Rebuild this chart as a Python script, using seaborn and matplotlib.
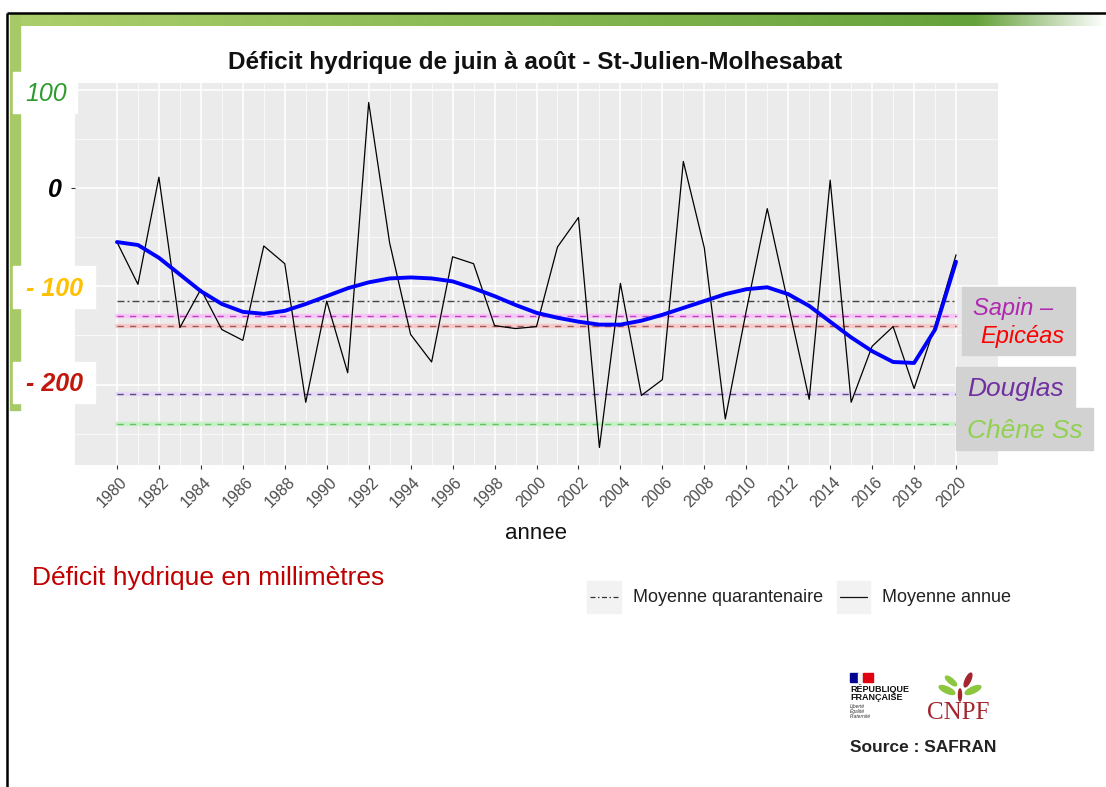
import numpy as np
import pandas as pd
import matplotlib
matplotlib.use("Agg")
import matplotlib.pyplot as plt
import matplotlib.transforms as mtransforms
from matplotlib.patches import Rectangle, Ellipse
import seaborn as sns

# ---------------- data ----------------
years = list(range(1980, 2021))
deficit = [-55, -98, 11, -142, -103, -144, -155, -59, -77, -218,
           -115, -188, 87, -56, -149, -177, -70, -77, -140, -143,
           -141, -60, -30, -264, -97, -211, -195, 27, -61, -235,
           -125, -21, -118, -215, 8, -218, -161, -141, -204, -140,
           -68]
smooth = [-55, -58, -71, -88, -105, -118, -126, -128, -125, -118,
          -110, -102, -96, -92, -91, -92, -95, -102, -110, -119,
          -127, -132, -136, -139, -139, -135, -129, -122, -115, -108,
          -103, -101, -108, -120, -136, -152, -166, -177, -178, -144,
          -75]
ref_names = ["Moyenne quarantenaire", "Sapin", "Epicéas", "Douglas", "Chêne Ss"]
ref_values = [-115, -130, -140, -210, -240]
xtick_years = list(range(1980, 2021, 2))
title = "Déficit hydrique de juin à août - St-Julien-Molhesabat"
left_labels = ["100", "0", "- 100", "- 200"]
legend_labels = ["Moyenne quarantenaire", "Moyenne annuelle"]

# ---------------- styles ----------------
ref_styles = {
    "Moyenne quarantenaire": dict(color="#444444", band=None, dashes=(5, 2.2, 1.4, 2.2)),
    "Sapin": dict(color="#C040C0", band="#F6C6F6", dashes=(4.5, 4.5)),
    "Epicéas": dict(color="#A05858", band="#F6CACA", dashes=(4.5, 4.5)),
    "Douglas": dict(color="#5E4A7E", band="#E6DAF8", dashes=(4.5, 4.5)),
    "Chêne Ss": dict(color="#66C066", band="#C6F0C6", dashes=(4.5, 4.5)),
}

sns.set_theme(style="darkgrid")
plt.rcParams["font.family"] = ["Liberation Sans", "DejaVu Sans"]

W, H = 1106, 787
fig = plt.figure(figsize=(W / 100, H / 100), dpi=100)
fig.patch.set_facecolor("white")

# ---------------- slide decoration (background) ----------------
deco = fig.add_axes([0, 0, 1, 1], zorder=-5)
deco.set_xlim(0, W)
deco.set_ylim(H, 0)
deco.axis("off")
xs = np.linspace(0, 1, 600)
c0 = np.array([0.67, 0.81, 0.42])
c1 = np.array([0.36, 0.61, 0.20])
grad = c0[None, :] * (1 - xs[:, None]) + c1[None, :] * xs[:, None]
fade = np.clip((xs - 0.88) / 0.12, 0, 1)[:, None]
grad = grad * (1 - fade) + fade * 1.0
deco.imshow(grad[None, :, :], extent=(20, W, 26, 14), aspect="auto", zorder=1)
deco.add_patch(Rectangle((10, 14), 10, 396, color="#A8CA66", zorder=1))
deco.plot([7, W], [13, 13], color="black", lw=1.8, zorder=2, solid_capstyle="butt")
deco.plot([7, 7], [13, H], color="black", lw=1.8, zorder=2, solid_capstyle="butt")

# ---------------- main chart ----------------
ax = fig.add_axes([75 / W, 1 - 465 / H, 923 / W, 382 / H])
ax.set_facecolor("#EBEBEB")
for s in ax.spines.values():
    s.set_visible(False)

for name, val in zip(ref_names, ref_values):
    st = ref_styles[name]
    if st["band"] is not None:
        ax.axhline(val, color=st["band"], lw=3.2, zorder=1.4, xmin=0.045, xmax=0.955)
    ax.axhline(val, color=st["color"], lw=1.0, dashes=st["dashes"], zorder=1.5,
               xmin=0.045, xmax=0.955)

df = pd.DataFrame({"annee": years, "deficit": deficit, "lisse": smooth})
sns.lineplot(data=df, x="annee", y="deficit", ax=ax, color="black", lw=0.9,
             legend=False, zorder=2)
sns.lineplot(data=df, x="annee", y="lisse", ax=ax, color="#0000FF", lw=2.8,
             legend=False, zorder=3)

ax.set_xlim(1978, 2022)
ax.set_ylim(-281.8, 106.8)
ax.set_xticks(xtick_years)
ax.set_xticks(list(range(1981, 2020, 2)), minor=True)
ax.set_yticks([-200, -100, 0, 100])
ax.set_yticks([-250, -150, -50, 50], minor=True)
ax.grid(which="major", color="white", lw=1.1)
ax.grid(which="minor", color="white", lw=0.5)
ax.tick_params(which="minor", length=0)
ax.tick_params(axis="both", which="major", length=3, width=0.8, color="#333333",
               bottom=True, left=True, pad=4)
ax.set_yticklabels([])
ax.set_xticklabels([str(y) for y in xtick_years], rotation=45, ha="center",
                   va="top", color="#4D4D4D", fontsize=11.5)
offset = mtransforms.ScaledTranslation(-5 / 100, 0, fig.dpi_scale_trans)
for lab in ax.get_xticklabels():
    lab.set_transform(lab.get_transform() + offset)
ax.set_xlabel("annee", fontsize=16, color="#111111", labelpad=9)
ax.set_ylabel("")

fig.text(535.5 / W, 1 - 62 / H, title, ha="center", va="center",
         fontsize=17.5, fontweight="bold", color="#111111")

# ---------------- overlays ----------------
ov = fig.add_axes([0, 0, 1, 1], zorder=5)
ov.set_xlim(0, W)
ov.set_ylim(H, 0)
ov.axis("off")

# left value labels
ov.add_patch(Rectangle((13, 72), 64, 41, color="white"))
ov.text(46, 94, left_labels[0], color="#2E9B2E", fontsize=18, style="italic",
        ha="center", va="center")
ov.text(55, 190, left_labels[1], color="black", fontsize=18, style="italic",
        fontweight="bold", ha="center", va="center")
ov.add_patch(Rectangle((13, 266), 82, 42, color="white"))
ov.text(54, 289, left_labels[2], color="#FFC000", fontsize=18, style="italic",
        fontweight="bold", ha="center", va="center")
ov.add_patch(Rectangle((13, 362), 82, 41, color="white"))
ov.text(54, 384, left_labels[3], color="#C0180C", fontsize=18, style="italic",
        fontweight="bold", ha="center", va="center")

# right species labels
ov.add_patch(Rectangle((962, 287), 113, 68, color="#D2D2D2"))
ov.text(1013, 308, "Sapin –", color="#B027B0", fontsize=17, style="italic",
        ha="center", va="center")
ov.text(1022, 336, "Epicéas", color="#FF0000", fontsize=17, style="italic",
        ha="center", va="center")
ov.add_patch(Rectangle((956, 367), 119, 41, color="#D2D2D2"))
ov.text(1015, 389, "Douglas", color="#7030A0", fontsize=19, style="italic",
        ha="center", va="center")
ov.add_patch(Rectangle((956, 408), 137, 42, color="#D2D2D2"))
ov.text(1025, 431, "Chêne Ss", color="#92D050", fontsize=19, style="italic",
        ha="center", va="center")

# unit note
ov.text(32, 578, "Déficit hydrique en millimètres", color="#C00000", fontsize=19,
        ha="left", va="center")

# legend
ov.add_patch(Rectangle((587, 581), 34, 32, color="#F2F2F2"))
ov.plot([590, 618], [597, 597], color="#333333", lw=0.9, dashes=(4, 2, 1.2, 2))
ov.text(633, 597, legend_labels[0], fontsize=13, color="#222222", ha="left", va="center")
ov.add_patch(Rectangle((837, 581), 33, 32, color="#F2F2F2"))
ov.plot([840, 867], [597, 597], color="#111111", lw=0.9)
ov.text(882, 597, legend_labels[1], fontsize=13, color="#222222", ha="left", va="center")
ov.add_patch(Rectangle((1012, 578), 94, 40, color="white", zorder=10))

# logos
ov.add_patch(Rectangle((850, 673), 8, 9, color="#000091"))
ov.add_patch(Rectangle((858, 673), 5, 9, color="#F2F2F2"))
ov.add_patch(Rectangle((863, 673), 10, 9, color="#E1000F"))
ov.text(850, 689, "RÉPUBLIQUE", fontsize=6.5, fontweight="bold", ha="left", va="center", color="#111111")
ov.text(850, 698, "FRANÇAISE", fontsize=6.5, fontweight="bold", ha="left", va="center", color="#111111")
for i, w in enumerate(["Liberté", "Égalité", "Fraternité"]):
    ov.text(850, 706 + i * 5.5, w, fontsize=3.5, style="italic", ha="left", va="center", color="#333333")
ov.add_patch(Ellipse((947, 690), 17, 6, angle=25, color="#8DC63F"))
ov.add_patch(Ellipse((973, 690), 17, 6, angle=-25, color="#8DC63F"))
ov.add_patch(Ellipse((951, 681), 14, 5, angle=40, color="#8DC63F"))
ov.add_patch(Ellipse((968, 680), 5, 15, angle=25, color="#A3262F"))
ov.add_patch(Ellipse((960, 695), 3, 12, angle=0, color="#A3262F"))
ov.text(958, 713, "CNPF", fontsize=18, family="Liberation Serif", color="#A3262F",
        ha="center", va="center")
ov.text(850, 747, "Source : SAFRAN", fontsize=12.5, fontweight="bold", color="#222222",
        ha="left", va="center")

fig.savefig("out.png", dpi=100)
